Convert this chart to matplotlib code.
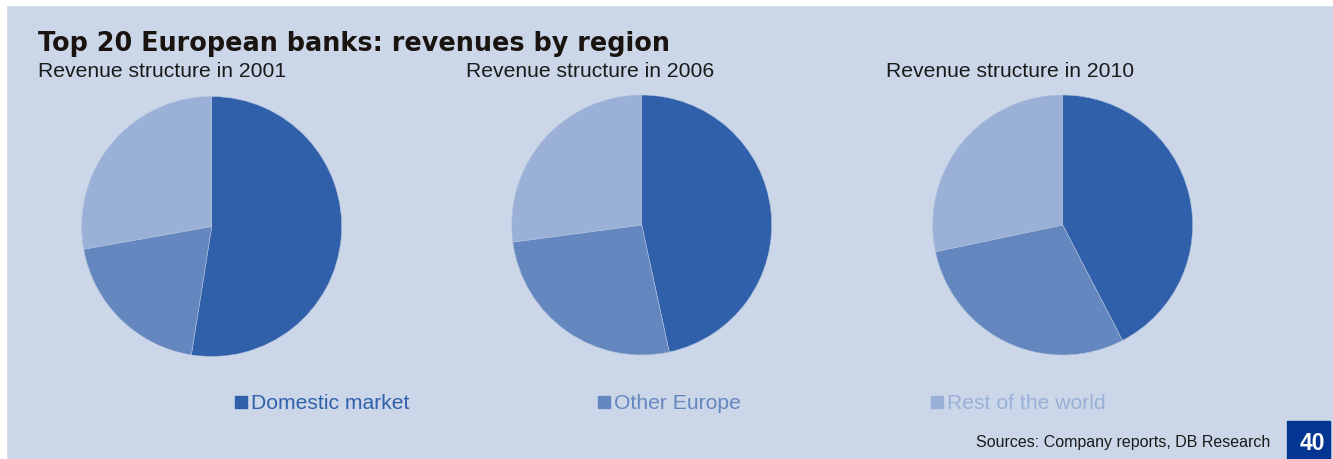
import matplotlib.pyplot as plt
from matplotlib.patches import Rectangle

# revenue shares in %
years = ["2001", "2006", "2010"]
domestic = [52.5, 46.6, 42.4]
other_europe = [19.7, 26.3, 29.3]
rest_world = [27.8, 27.1, 28.3]
segments = ["Domestic market", "Other Europe", "Rest of the world"]

colors = ["#3160AA", "#6587C0", "#9AB0D7"]
bg = "#CBD7E8"

plt.rcParams['font.family'] = ['Liberation Sans', 'DejaVu Sans']

W, H = 1333, 459
fig = plt.figure(figsize=(W / 100, H / 100), dpi=100, facecolor=bg)

# thin white margin top / left
fig.patches.append(Rectangle((0, 1 - 5 / H), 1, 5 / H,
                             transform=fig.transFigure, color="white", zorder=0))
fig.patches.append(Rectangle((0, 0), 6 / W, 1,
                             transform=fig.transFigure, color="white", zorder=0))

# pie centres in pixels
centres = [(211.7, 226.5), (641.7, 225), (1062.7, 225)]
radius = 130
subtitle_x = [38, 466, 886]

for i, year in enumerate(years):
    cx, cy = centres[i]
    ax = fig.add_axes([(cx - radius) / W, (H - cy - radius) / H,
                       2 * radius / W, 2 * radius / H])
    ax.set_zorder(3)
    vals = [domestic[i], other_europe[i], rest_world[i]]
    ax.pie(vals, colors=colors, startangle=90, counterclock=False,
           radius=1, wedgeprops=dict(linewidth=0.4, edgecolor="#AFC0DD"))
    ax.set_xlim(-1, 1)
    ax.set_ylim(-1, 1)
    ax.axis("off")
    fig.text(subtitle_x[i] / W, 1 - 77 / H, "Revenue structure in " + year,
             fontsize=15.2, color="#1a1a1a", va="baseline")

fig.text(38 / W, 1 - 51 / H, "Top 20 European banks: revenues by region",
         fontsize=18.4, fontweight="bold", family="DejaVu Sans",
         color="#1a1410", va="baseline")

# legend
legend_x = [235, 598, 931]
for i, name in enumerate(segments):
    lx = legend_x[i]
    fig.patches.append(Rectangle((lx / W, 1 - 408 / H), 12 / W, 12 / H,
                                 transform=fig.transFigure, color=colors[i]))
    fig.text((lx + 16) / W, 1 - 409 / H, name, fontsize=15.2,
             color=colors[i], va="baseline")

fig.text(1270 / W, 1 - 447 / H, "Sources: Company reports, DB Research",
         fontsize=11.5, color="#1a1a1a", ha="right", va="baseline")

# page number box
fig.patches.append(Rectangle((1287 / W, 0), 43 / W, 38.5 / H,
                             transform=fig.transFigure, color="#033592"))
fig.text(1312 / W, 1 - 443.5 / H, "40", fontsize=16.5, fontweight="bold",
         color="white", ha="center", va="center")

fig.savefig("out.png", dpi=100, facecolor=bg)
